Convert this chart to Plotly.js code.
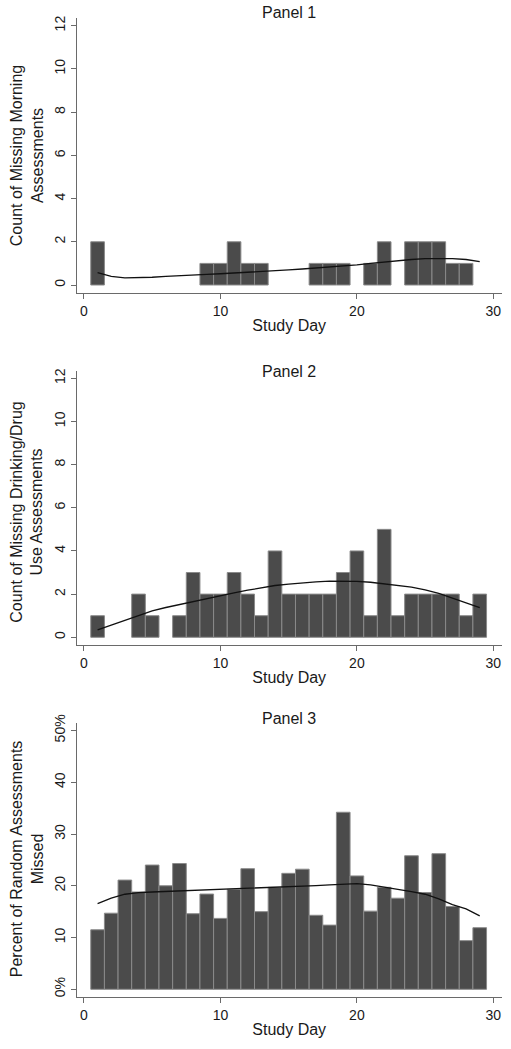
<!DOCTYPE html>
<html>
<head>
<meta charset="utf-8">
<script src="https://cdn.plot.ly/plotly-3.0.1.min.js"></script>
<style>html,body{margin:0;padding:0;background:#fff;}#chart{width:511px;height:1049px;}</style>
</head>
<body>
<div id="chart"></div>
<script>
// Panel 1: missing morning assessments (count per study day)
const p1Days   = [1, 9, 10, 11, 12, 13, 17, 18, 19, 21, 22, 24, 25, 26, 27, 28];
const p1Counts = [2, 1, 1, 2, 1, 1, 1, 1, 1, 1, 2, 2, 2, 2, 1, 1];
// Panel 2: missing drinking/drug use assessments
const p2Days   = [1, 4, 5, 7, 8, 9, 10, 11, 12, 13, 14, 15, 16, 17, 18, 19, 20, 21, 22, 23, 24, 25, 26, 27, 28, 29];
const p2Counts = [1, 2, 1, 1, 3, 2, 2, 3, 2, 1, 4, 2, 2, 2, 2, 3, 4, 1, 5, 1, 2, 2, 2, 2, 1, 2];
// Panel 3: percent of random assessments missed
const p3Days    = [1,2,3,4,5,6,7,8,9,10,11,12,13,14,15,16,17,18,19,20,21,22,23,24,25,26,27,28,29];
const p3Percent = [11.5,14.7,21.1,18.8,24.0,20.0,24.3,14.6,18.4,13.7,19.3,23.3,15.0,19.7,22.4,23.2,14.3,12.4,34.2,21.9,15.1,19.7,17.6,25.8,18.7,26.2,16.0,9.4,11.9];
// Smoothed (lowess) curves, one value per study day
const smoothDays = [1,2,3,4,5,6,7,8,9,10,11,12,13,14,15,16,17,18,19,20,21,22,23,24,25,26,27,28,29];
const p1Smooth = [0.57,0.40,0.33,0.34,0.36,0.40,0.44,0.47,0.49,0.52,0.55,0.59,0.63,0.67,0.70,0.74,0.78,0.82,0.86,0.93,1.00,1.07,1.13,1.18,1.22,1.23,1.22,1.18,1.08];
const p2Smooth = [0.34,0.56,0.80,1.03,1.22,1.38,1.52,1.66,1.80,1.93,2.06,2.18,2.30,2.40,2.46,2.52,2.57,2.60,2.61,2.59,2.55,2.48,2.40,2.32,2.20,2.03,1.82,1.60,1.37];
const p3Smooth = [16.56,17.6,18.36,18.69,18.8,18.9,18.95,19.07,19.2,19.27,19.4,19.46,19.52,19.6,19.7,19.85,20.04,20.17,20.3,20.4,20.17,19.78,19.4,18.88,18.36,17.46,16.37,15.53,14.18];
// Tick labels
const xTicks = [0, 10, 20, 30];
const countTicks = [0, 2, 4, 6, 8, 10, 12];
const pctTickVals = [0, 10, 20, 30, 40, 50];
const pctTickText = ["0%", "10", "20", "30", "40", "50%"];
const panelTitles = ["Panel 1", "Panel 2", "Panel 3"];
const yTitles = ["Count of Missing Morning<br>Assessments", "Count of Missing Drinking/Drug<br>Use Assessments", "Percent of Random Assessments<br>Missed"];
const xTitle = "Study Day";

const FONT = "Liberation Sans, Arial, Helvetica, sans-serif";
const W = 511, H = 1049;
const barStyle = {color: "#4b4b4b", line: {color: "#8a8a8a", width: 1}};
const lineStyle = {color: "#111", width: 1.3};

function bar(x, y, ax) {
  return {type: "bar", x: x, y: y, width: 1, marker: barStyle, xaxis: "x" + ax, yaxis: "y" + ax, hoverinfo: "x+y", showlegend: false};
}
function smooth(y, ax) {
  return {type: "scatter", mode: "lines", x: smoothDays, y: y, line: lineStyle, xaxis: "x" + ax, yaxis: "y" + ax, showlegend: false};
}

const data = [
  bar(p1Days, p1Counts, ""), smooth(p1Smooth, ""),
  bar(p2Days, p2Counts, "2"), smooth(p2Smooth, "2"),
  bar(p3Days, p3Percent, "3"), smooth(p3Smooth, "3")
];

const xDom = [76.7 / W, 501.7 / W];
function yDom(topPx, botPx) { return [1 - botPx / H, 1 - topPx / H]; }
const panels = [
  {top: 17.7, bot: 292.7, range: [-0.356, 12.37], ticks: countTicks, text: null, titleY: 13, yTitleY: 155.5},
  {top: 370.7, bot: 645, range: [-0.357, 12.35], ticks: countTicks, text: null, titleY: 371.7, yTitleY: 512},
  {top: 722.7, bot: 996.7, range: [-1.43, 51.5], ticks: pctTickVals, text: pctTickText, titleY: 718.3, yTitleY: 858.5}
];

const layout = {
  width: W, height: H,
  margin: {l: 0, r: 0, t: 0, b: 0},
  paper_bgcolor: "#fff", plot_bgcolor: "#fff",
  font: {family: FONT, color: "#1a1a1a"},
  bargap: 0,
  showlegend: false,
  annotations: []
};

panels.forEach((p, i) => {
  const s = i === 0 ? "" : String(i + 1);
  layout["xaxis" + s] = {
    domain: xDom, anchor: "y" + s, range: [-0.53, 30.61],
    showline: true, linecolor: "#6a6a6a", linewidth: 1,
    ticks: "outside", ticklen: 5, tickcolor: "#6a6a6a",
    tickmode: "array", tickvals: xTicks,
    tickfont: {size: 14, family: FONT, color: "#1a1a1a"},
    showgrid: false, zeroline: false,
    title: {text: xTitle, font: {size: 16, family: FONT, color: "#1a1a1a"}, standoff: 2}
  };
  const ya = {
    domain: yDom(p.top, p.bot), anchor: "x" + s, range: p.range,
    showline: true, linecolor: "#6a6a6a", linewidth: 1,
    ticks: "outside", ticklen: 5, tickcolor: "#6a6a6a",
    tickmode: "array", tickvals: p.ticks, tickangle: -90,
    tickfont: {size: 14, family: FONT, color: "#1a1a1a"},
    showgrid: false, zeroline: false
  };
  if (p.text) ya.ticktext = p.text;
  layout["yaxis" + s] = ya;
  layout.annotations.push({
    text: panelTitles[i], xref: "paper", yref: "paper",
    x: (xDom[0] + xDom[1]) / 2, y: 1 - p.titleY / H, xanchor: "center", yanchor: "middle",
    showarrow: false, font: {size: 16, family: FONT, color: "#1a1a1a"}
  });
  layout.annotations.push({
    text: yTitles[i], xref: "paper", yref: "paper",
    x: 26.7 / W, y: 1 - p.yTitleY / H, xanchor: "center", yanchor: "middle",
    textangle: -90, showarrow: false,
    font: {size: 16, family: FONT, color: "#1a1a1a"}
  });
});

Plotly.newPlot("chart", data, layout, {staticPlot: true});
</script>
</body>
</html>
